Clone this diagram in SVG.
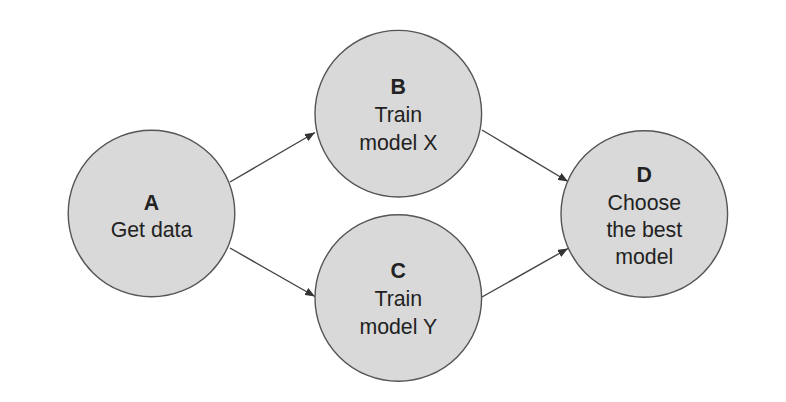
<svg xmlns="http://www.w3.org/2000/svg" width="786" height="402" viewBox="0 0 786 402">
<style>
.node{fill:#d9d9d9;stroke:#555;stroke-width:1.4}
.lbl{font-family:"Liberation Sans",Arial,sans-serif;font-size:21.3px;fill:#222;text-anchor:middle}
.b{font-weight:bold}
.edge{stroke:#444;stroke-width:1.4;fill:none}
</style>
<defs>
<marker id="arr" markerUnits="userSpaceOnUse" markerWidth="10" markerHeight="8" refX="10" refY="4" orient="auto">
<path d="M0,0 L10,4 L0,8 z" fill="#333"/>
</marker>
</defs>
<rect width="786" height="402" fill="#fff"/>
<g id="edges">
<line class="edge" x1="230" y1="182" x2="315" y2="132.5" marker-end="url(#arr)"/>
<line class="edge" x1="230" y1="248" x2="315" y2="296.5" marker-end="url(#arr)"/>
<line class="edge" x1="482" y1="130" x2="568" y2="181.5" marker-end="url(#arr)"/>
<line class="edge" x1="482" y1="297" x2="568" y2="248.5" marker-end="url(#arr)"/>
</g>
<g id="A">
<circle class="node" cx="151.5" cy="213.5" r="83.3"/>
<text class="lbl b" x="151.5" y="210">A</text>
<text class="lbl" x="151.5" y="237">Get data</text>
</g>
<g id="B">
<circle class="node" cx="398.3" cy="113.7" r="83.3"/>
<text class="lbl b" x="398.3" y="93.5">B</text>
<text class="lbl" x="398.3" y="122">Train</text>
<text class="lbl" x="398.3" y="150">model X</text>
</g>
<g id="C">
<circle class="node" cx="398.3" cy="298" r="83.3"/>
<text class="lbl b" x="398.3" y="277.5">C</text>
<text class="lbl" x="398.3" y="306">Train</text>
<text class="lbl" x="398.3" y="334">model Y</text>
</g>
<g id="D">
<circle class="node" cx="644.3" cy="214" r="83.3"/>
<text class="lbl b" x="644.3" y="182">D</text>
<text class="lbl" x="644.3" y="209.5">Choose</text>
<text class="lbl" x="644.3" y="237">the best</text>
<text class="lbl" x="644.3" y="264">model</text>
</g>
</svg>
